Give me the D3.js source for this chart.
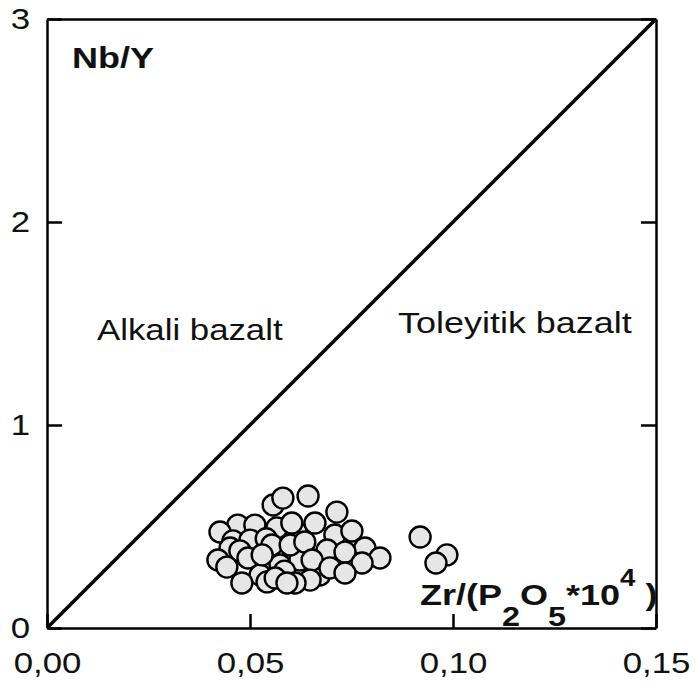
<!DOCTYPE html>
<html>
<head>
<meta charset="utf-8">
<script src="https://cdn.jsdelivr.net/npm/d3@7"></script>
<style>
  body { margin: 0; background: #fff; }
  text { font-family: "Liberation Sans", Arial, sans-serif; fill: #111; }
  .axis path, .axis line { stroke: #000; stroke-width: 2.5; }
  .axis text { font-size: 29px; }
</style>
</head>
<body>
<script>
// Zr/(P2O5*10^4) values and Nb/Y values
var zrP = [0.0470, 0.0557, 0.0426, 0.0512, 0.0566, 0.0458, 0.0500, 0.0451, 0.0709, 0.0783,
           0.0623, 0.0574, 0.0525, 0.0672, 0.0540, 0.0615, 0.0585, 0.0475,
           0.0581, 0.0643, 0.0714, 0.0603, 0.0660, 0.0751,
           0.0554, 0.0599, 0.0635, 0.0690, 0.0734, 0.0820, 0.0776, 0.0653, 0.0495, 0.0421,
           0.0443, 0.0530, 0.0697, 0.0734, 0.0648, 0.0480, 0.0542, 0.0611, 0.0562, 0.0591,
           0.0919, 0.0985, 0.0958];
var nbY = [0.507, 0.606, 0.473, 0.507, 0.493, 0.429, 0.433, 0.394, 0.458, 0.394,
           0.335, 0.310, 0.261, 0.261, 0.440, 0.470, 0.280, 0.380,
           0.640, 0.650, 0.571, 0.517, 0.517, 0.478,
           0.409, 0.409, 0.424, 0.384, 0.374, 0.345, 0.320, 0.335, 0.345, 0.335,
           0.300, 0.360, 0.296, 0.271, 0.236, 0.222, 0.227, 0.222, 0.246, 0.222,
           0.448, 0.360, 0.320];

var xTicks = [0, 0.05, 0.10, 0.15],
    yTicks = [0, 1, 2, 3];

// dividing line Nb/Y = 20 * Zr/(P2O5*10^4)
var divider = [[0, 0], [0.15, 3]];

var margin = {top: 19, right: 41, bottom: 58, left: 47},
    width = 697 - margin.left - margin.right,
    height = 686 - margin.top - margin.bottom;

var x = d3.scaleLinear().domain([0, 0.15]).range([0, width]),
    y = d3.scaleLinear().domain([0, 3]).range([height, 0]);

var fmt = d3.formatLocale({decimal: ",", thousands: ".", grouping: [3], currency: ["", ""]}).format(".2f");

var svg = d3.select("body").append("svg")
    .attr("width", 697)
    .attr("height", 686)
  .append("g")
    .attr("transform", "translate(" + margin.left + "," + margin.top + ")");

var stretch = "scale(1.2,1)";

// points
svg.selectAll(".dot")
    .data(zrP.map(function(d, i) { return [d, nbY[i]]; }))
  .enter().append("circle")
    .attr("class", "dot")
    .attr("cx", function(d) { return x(d[0]); })
    .attr("cy", function(d) { return y(d[1]); })
    .attr("r", 10.5)
    .style("fill", "#e6e6e6")
    .style("stroke", "#000")
    .style("stroke-width", 2.4);

// divider
svg.append("path")
    .datum(divider)
    .attr("d", d3.line().x(function(d) { return x(d[0]); }).y(function(d) { return y(d[1]); }))
    .style("stroke", "#000")
    .style("stroke-width", 3.5)
    .style("fill", "none");

// axes
var xAxis = svg.append("g")
    .attr("class", "axis")
    .attr("transform", "translate(0," + height + ")")
    .call(d3.axisBottom(x).tickValues(xTicks).tickFormat(fmt).tickSizeInner(-14).tickSizeOuter(0).tickPadding(24));
xAxis.selectAll("text").attr("transform", stretch);

var yAxis = svg.append("g")
    .attr("class", "axis")
    .call(d3.axisLeft(y).tickValues(yTicks).tickFormat(d3.format("d")).tickSizeInner(-15).tickSizeOuter(0).tickPadding(14));
yAxis.selectAll("text").attr("transform", stretch);

svg.append("g")
    .attr("class", "axis")
    .attr("transform", "translate(" + width + ",0)")
    .call(d3.axisRight(y).tickValues(yTicks).tickFormat("").tickSizeInner(-15).tickSizeOuter(0));

svg.append("g")
    .attr("class", "axis")
    .call(d3.axisTop(x).tickValues(xTicks).tickFormat("").tickSize(0));

// labels
svg.append("text")
    .attr("transform", "translate(25,49) " + stretch)
    .style("font-size", "30px")
    .style("font-weight", "bold")
    .text("Nb/Y");

var xl = svg.append("text")
    .attr("transform", "translate(373,586) " + stretch)
    .style("font-size", "30px")
    .style("font-weight", "bold");
xl.append("tspan").text("Zr/(P");
xl.append("tspan").attr("dy", 21).style("font-size", "27px").text("2");
xl.append("tspan").attr("dy", -21).text("O");
xl.append("tspan").attr("dy", 21).style("font-size", "27px").text("5");
xl.append("tspan").attr("dy", -21).text("*10");
xl.append("tspan").attr("dy", -19).style("font-size", "23px").text("4");
xl.append("tspan").attr("dy", 19).text(" )");

svg.append("text")
    .attr("transform", "translate(50,321) " + stretch)
    .style("font-size", "29px")
    .text("Alkali bazalt");

svg.append("text")
    .attr("transform", "translate(351,314) scale(1.24,1)")
    .style("font-size", "29px")
    .text("Toleyitik bazalt");
</script>
</body>
</html>
